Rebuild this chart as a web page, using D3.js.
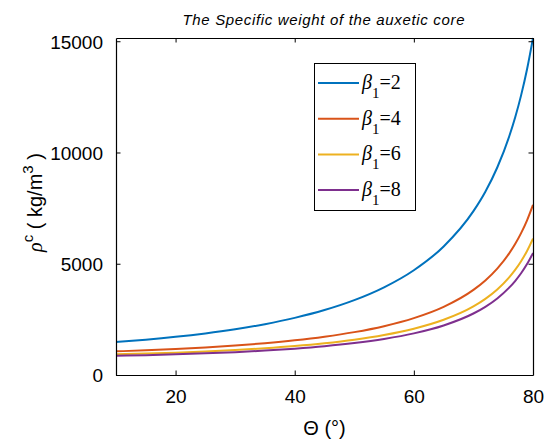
<!DOCTYPE html>
<html>
<head>
<meta charset="utf-8">
<script src="https://cdn.jsdelivr.net/npm/d3@7"></script>
<style>
  html, body { margin: 0; padding: 0; background: #fff; }
  svg { display: block; }
</style>
</head>
<body>
<svg id="chart" width="546" height="439"></svg>
<script>
// Cell angle Θ (degrees)
const theta = [10, 15, 20, 25, 30, 35, 40, 45, 50, 55, 60, 65, 70, 72, 74, 76, 77, 78, 79, 80];

// Specific weight ρ^c (kg/m^3) for each β1
const rhoBeta2 = [1485, 1588, 1714, 1868, 2055, 2285, 2568, 2921, 3366, 3942, 4709, 5777, 7363, 8237, 9325, 10718, 11573, 12567, 13741, 15146];
const rhoBeta4 = [1063, 1108, 1165, 1235, 1321, 1427, 1557, 1720, 1927, 2195, 2556, 3063, 3826, 4251, 4782, 5464, 5884, 6375, 6954, 7649];
const rhoBeta6 = [931, 963, 1004, 1056, 1121, 1201, 1301, 1427, 1587, 1797, 2080, 2481, 3085, 3423, 3845, 4389, 4724, 5114, 5577, 6132];
const rhoBeta8 = [866, 893, 928, 972, 1028, 1097, 1184, 1294, 1436, 1621, 1871, 2227, 2764, 3064, 3441, 3925, 4224, 4572, 4984, 5480];

const seriesNames = ["2", "4", "6", "8"];
const seriesColors = ["#0072BD", "#D95319", "#EDB120", "#7E2F8E"];

const xTicks = [20, 40, 60, 80];
const yTicks = [0, 5000, 10000, 15000];

const series = [rhoBeta2, rhoBeta4, rhoBeta6, rhoBeta8];

const svg = d3.select("#chart");
const margin = { left: 116, right: 13, top: 38, bottom: 64 };
const W = 546, H = 439;
const plotW = W - margin.left - margin.right;
const plotH = H - margin.top - margin.bottom;

const x = d3.scaleLinear().domain([10, 80]).range([0, plotW]);
const y = d3.scaleLinear().domain([0, d3.max(rhoBeta2)]).range([plotH, 0]);

const g = svg.append("g").attr("transform", `translate(${margin.left},${margin.top})`);

svg.append("clipPath").attr("id", "plotclip")
  .append("rect").attr("x", 0).attr("y", -1).attr("width", plotW).attr("height", plotH + 2);

// Curves
const line = d3.line()
  .x((d, i) => x(theta[i]))
  .y(d => y(d))
  .curve(d3.curveMonotoneX);

const curves = g.append("g").attr("clip-path", "url(#plotclip)");
series.forEach((vals, k) => {
  curves.append("path")
    .datum(vals)
    .attr("fill", "none")
    .attr("stroke", seriesColors[k])
    .attr("stroke-width", 2)
    .attr("d", line);
});

// Axes with inward ticks on all four sides
const tickLen = 4.5;
const sans = "'Liberation Sans', Arial, sans-serif";
const serif = "'Liberation Serif', 'Times New Roman', serif";
const fmt = d3.format("d");

const axB = g.append("g").attr("transform", `translate(0,${plotH})`)
  .call(d3.axisBottom(x).tickValues(xTicks).tickFormat(fmt).tickSizeInner(-tickLen).tickSizeOuter(0).tickPadding(15));
const axL = g.append("g")
  .call(d3.axisLeft(y).tickValues(yTicks).tickFormat(fmt).tickSizeInner(-tickLen).tickSizeOuter(0).tickPadding(13));
const axT = g.append("g")
  .call(d3.axisTop(x).tickValues(xTicks).tickSizeInner(-tickLen).tickSizeOuter(0).tickFormat(""));
const axR = g.append("g").attr("transform", `translate(${plotW},0)`)
  .call(d3.axisRight(y).tickValues(yTicks).tickSizeInner(-tickLen).tickSizeOuter(0).tickFormat(""));

[axB, axL, axT, axR].forEach(a => {
  a.select(".domain").attr("stroke", "#000").attr("stroke-width", 1.2);
  a.selectAll(".tick line").attr("stroke", "#000").attr("stroke-width", 1);
  a.selectAll("text").attr("fill", "#000")
    .style("font-family", sans).style("font-size", "19px");
});
axL.selectAll("text").attr("dy", "0.36em");
axB.selectAll("text").attr("dy", "0.71em");

// Title
svg.append("text")
  .attr("x", 182.5)
  .attr("y", 25)
  .attr("textLength", 282)
  .attr("lengthAdjust", "spacing")
  .style("font-family", sans)
  .style("font-style", "italic")
  .style("font-size", "15px")
  .text("The Specific weight of the auxetic core");

// X label
svg.append("text")
  .attr("x", margin.left + plotW / 2)
  .attr("y", 435)
  .attr("text-anchor", "middle")
  .style("font-family", sans)
  .style("font-size", "20px")
  .text("Θ (°)");

// Y label
const yl = svg.append("text")
  .attr("transform", `translate(42,${margin.top + plotH / 2 - 4}) rotate(-90)`)
  .attr("text-anchor", "middle")
  .style("font-family", sans)
  .style("font-size", "20px");
yl.append("tspan").style("font-family", serif).style("font-style", "italic").text("ρ");
yl.append("tspan").attr("dy", -9).style("font-size", "15px").text("c");
yl.append("tspan").attr("dy", 9).text(" ( kg/m");
yl.append("tspan").attr("dy", -9).style("font-size", "15px").text("3");
yl.append("tspan").attr("dy", 9).text(" )");

// Legend
const legend = svg.append("g");
legend.append("rect")
  .attr("x", 314.5).attr("y", 63.5).attr("width", 101).attr("height", 147)
  .attr("fill", "#fff").attr("stroke", "#000").attr("stroke-width", 1);
seriesNames.forEach((name, k) => {
  const cy = 83 + k * 35.7;
  legend.append("line")
    .attr("x1", 318).attr("x2", 359).attr("y1", cy).attr("y2", cy)
    .attr("stroke", seriesColors[k]).attr("stroke-width", 2);
  const t = legend.append("text")
    .attr("x", 362).attr("y", cy + 6)
    .attr("font-family", serif)
    .attr("font-size", 20);
  t.append("tspan").attr("font-family", serif).attr("font-style", "italic").text("β");
  t.append("tspan").attr("font-family", serif).attr("dy", 9).attr("font-size", 15).text("1");
  t.append("tspan").attr("font-family", serif).attr("dy", -9).text("=" + name);
});
</script>
</body>
</html>
